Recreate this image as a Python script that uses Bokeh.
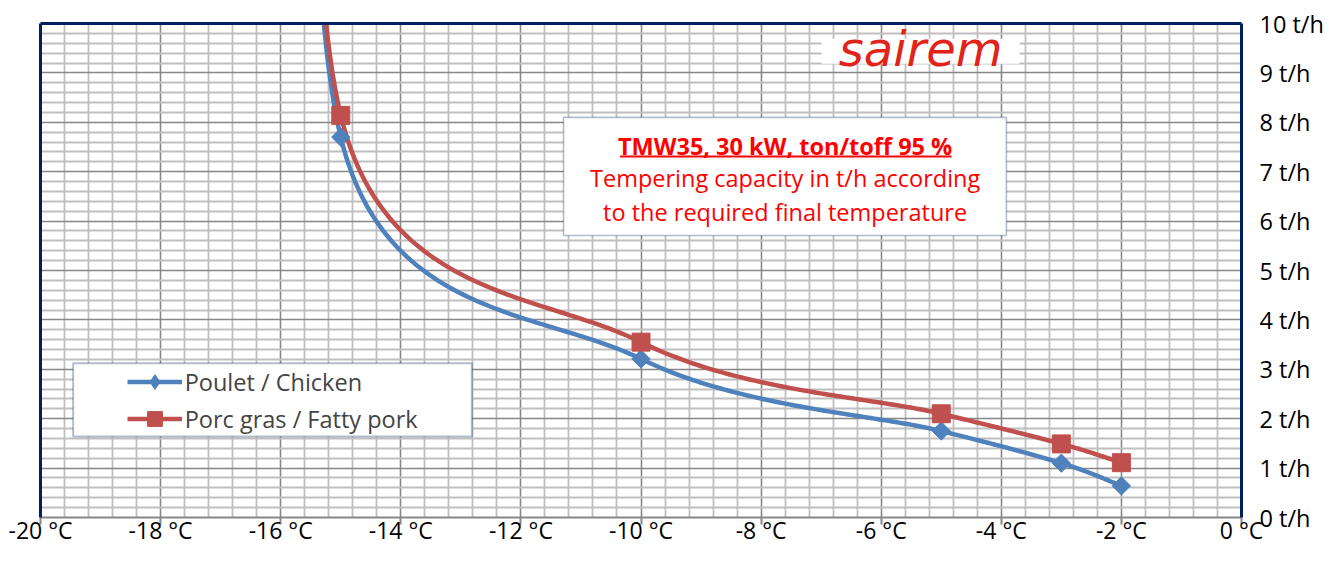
import numpy as np
from bokeh.plotting import figure
from bokeh.models import (FixedTicker, LinearAxis, Legend, LegendItem, Label,
                          BoxAnnotation, Range1d)
from bokeh.embed import file_html
from bokeh.resources import INLINE

# ---------------- data ----------------
series_names = ["Poulet / Chicken", "Porc gras / Fatty pork"]
# first point of each series lies above the visible range (curve leaves the top)
temps_chicken = [-15.3, -15.0, -10.0, -5.0, -3.0, -2.0]
capacity_chicken = [30.0, 7.70, 3.21, 1.75, 1.10, 0.64]
temps_pork = [-15.25, -15.0, -10.0, -5.0, -3.0, -2.0]
capacity_pork = [30.0, 8.14, 3.55, 2.10, 1.49, 1.11]

x_ticks = [-20, -18, -16, -14, -12, -10, -8, -6, -4, -2, 0]
x_tick_labels = ["-20 °C", "-18 °C", "-16 °C", "-14 °C", "-12 °C", "-10 °C",
                 "-8 °C", "-6 °C", "-4 °C", "-2 °C", "0 °C"]
y_ticks = [0, 1, 2, 3, 4, 5, 6, 7, 8, 9, 10]
y_tick_labels = ["0 t/h", "1 t/h", "2 t/h", "3 t/h", "4 t/h", "5 t/h",
                 "6 t/h", "7 t/h", "8 t/h", "9 t/h", "10 t/h"]

title_line = "TMW35, 30 kW, ton/toff 95 %"
sub_lines = ["Tempering capacity in t/h according", "to the required final temperature"]
logo_text = "sairem"

# ---------------- style ----------------
BLUE = "#4F81BD"
RED = "#C0504D"
NAVY = "#002060"
FONT = "Open Sans"
FS = "23.5px"
KX, KY = 60.1, 49.4   # approx pixels per unit (smoothing is done in screen-like space)


def smooth(xs, ys, n=80):
    """Excel-like smoothed line: Bezier segments, tangent (P[i+1]-P[i-1])/6,
    handle length capped at half of the adjacent segment."""
    P = np.column_stack([np.asarray(xs, float) * KX, np.asarray(ys, float) * KY])
    m = len(P)
    fwd = np.zeros_like(P)
    bwd = np.zeros_like(P)
    for i in range(m):
        prev_ = P[i - 1] if i > 0 else P[i]
        next_ = P[i + 1] if i < m - 1 else P[i]
        v = (next_ - prev_) / 6.0
        nv = np.linalg.norm(v)
        if i < m - 1:
            cap = np.linalg.norm(P[i + 1] - P[i]) / 2.0
            fwd[i] = P[i] + (v * cap / nv if nv > cap else v)
        if i > 0:
            cap = np.linalg.norm(P[i] - P[i - 1]) / 2.0
            bwd[i] = P[i] - (v * cap / nv if nv > cap else v)
    t = np.linspace(0, 1, n)[:, None]
    segs = []
    for i in range(m - 1):
        a, b, c, d = P[i], fwd[i], bwd[i + 1], P[i + 1]
        B = (1 - t) ** 3 * a + 3 * (1 - t) ** 2 * t * b + 3 * (1 - t) * t ** 2 * c + t ** 3 * d
        segs.append(B if i == 0 else B[1:])
    C = np.vstack(segs)
    return C[:, 0] / KX, C[:, 1] / KY


p = figure(width=1326, height=550, x_range=Range1d(-20, 0), y_range=Range1d(0, 10),
           y_axis_location="right", output_backend="svg", toolbar_location=None,
           min_border_left=40, min_border_right=84, min_border_top=23,
           min_border_bottom=33, background_fill_color="white",
           border_fill_color="white")
p.outline_line_color = None

x_minor = [round(-20 + 0.4 * i, 2) for i in range(51) if i % 5]
y_minor = [round(0.2 * i, 2) for i in range(51) if i % 5]

# grid
p.xgrid.ticker = FixedTicker(ticks=x_ticks, minor_ticks=x_minor)
p.ygrid.ticker = FixedTicker(ticks=y_ticks, minor_ticks=y_minor)
for g in (p.xgrid, p.ygrid):
    g.grid_line_color = "#878787"
    g.grid_line_width = 1.6
    g.minor_grid_line_color = "#BFBFBF"
    g.minor_grid_line_width = 1.8

# bottom axis
xa = p.xaxis[0]
xa.ticker = FixedTicker(ticks=x_ticks, minor_ticks=[])
xa.major_label_overrides = {t: l for t, l in zip(x_ticks, x_tick_labels)}
xa.axis_line_color = "#878787"
xa.axis_line_width = 2
xa.major_tick_line_color = "#878787"
xa.major_tick_line_width = 2
xa.major_tick_out = 7
xa.major_tick_in = 0
xa.minor_tick_out = 0
xa.minor_tick_in = 0
xa.major_label_standoff = -11
xa.major_label_text_font = FONT
xa.major_label_text_font_size = "23px"
xa.major_label_text_color = "#000000"

# right axis
ya = p.yaxis[0]
ya.ticker = FixedTicker(ticks=y_ticks, minor_ticks=[])
ya.major_label_overrides = {t: l for t, l in zip(y_ticks, y_tick_labels)}
ya.axis_line_color = NAVY
ya.axis_line_width = 3
ya.major_tick_out = 0
ya.major_tick_in = 0
ya.minor_tick_out = 0
ya.minor_tick_in = 0
ya.major_label_standoff = 18
ya.major_label_text_font = FONT
ya.major_label_text_font_size = FS
ya.major_label_text_color = "#000000"

# left and top frame lines
for loc in ("left", "above"):
    ax = LinearAxis(ticker=FixedTicker(ticks=[], minor_ticks=[]),
                    axis_line_color=NAVY, axis_line_width=3,
                    major_tick_out=0, major_tick_in=0, minor_tick_out=0,
                    minor_tick_in=0)
    p.add_layout(ax, loc)

# series
cx, cy = smooth(temps_chicken, capacity_chicken)
px_, py_ = smooth(temps_pork, capacity_pork)
l1 = p.line(cx, cy, line_color=BLUE, line_width=4.5, line_join="round")
l2 = p.line(px_, py_, line_color=RED, line_width=4.5, line_join="round")
m1 = p.scatter(temps_chicken, capacity_chicken, marker="square", angle=np.pi / 4,
               size=13, fill_color=BLUE, line_color=BLUE)
m2 = p.scatter(temps_pork, capacity_pork, marker="square", size=18,
               fill_color=RED, line_color=RED)
# legend-only swatch for the diamond (legend glyphs ignore marker angle)
m1_leg = p.scatter([np.nan], [np.nan], marker="diamond", fill_color=BLUE,
                   line_color=BLUE)

# legend box + legend
p.add_layout(BoxAnnotation(left=-19.456, right=-12.817, bottom=1.640, top=3.123,
                           fill_color="white", fill_alpha=1.0, line_color=NAVY,
                           line_width=2))
legend = Legend(items=[LegendItem(label=series_names[0], renderers=[l1, m1_leg]),
                       LegendItem(label=series_names[1], renderers=[l2, m2])],
                location=(86.7, 79.8), padding=0, margin=0, spacing=0,
                glyph_width=55, glyph_height=37, label_height=37,
                label_standoff=3, label_text_font=FONT,
                label_text_font_size=FS, border_line_alpha=0,
                background_fill_alpha=0)
p.add_layout(legend)

# text box
p.add_layout(BoxAnnotation(left=-11.29, right=-3.915, bottom=5.71, top=8.10,
                           fill_color="white", fill_alpha=1.0, line_color=NAVY,
                           line_width=1.6))
p.add_layout(Label(x=-7.60, y=7.516, text=title_line, text_align="center",
                   text_baseline="middle", text_font=FONT, text_font_style="bold",
                   text_font_size=FS, text_color="#FF0000"))
p.add_layout(BoxAnnotation(left=-10.349, right=-4.830, bottom=7.287, top=7.328,
                           fill_color="#FF0000", fill_alpha=1.0, line_alpha=0))
for yy, txt in zip([6.866, 6.194], sub_lines):
    p.add_layout(Label(x=-7.60, y=yy, text=txt, text_align="center",
                       text_baseline="middle", text_font=FONT,
                       text_font_size=FS, text_color="#FF0000"))

# logo (white patch behind it, inside the plot area)
p.add_layout(BoxAnnotation(left=-6.993, right=-3.694, bottom=9.184, top=9.690,
                           fill_color="white", fill_alpha=1.0, line_alpha=0))
p.add_layout(Label(x=-5.342, y=9.49, text=logo_text, text_align="center",
                   text_baseline="middle", text_font="DejaVu Sans",
                   text_font_style="italic", text_font_size="48px",
                   text_color="#E2231A"))

open("out.html", "w").write(file_html(p, INLINE))
